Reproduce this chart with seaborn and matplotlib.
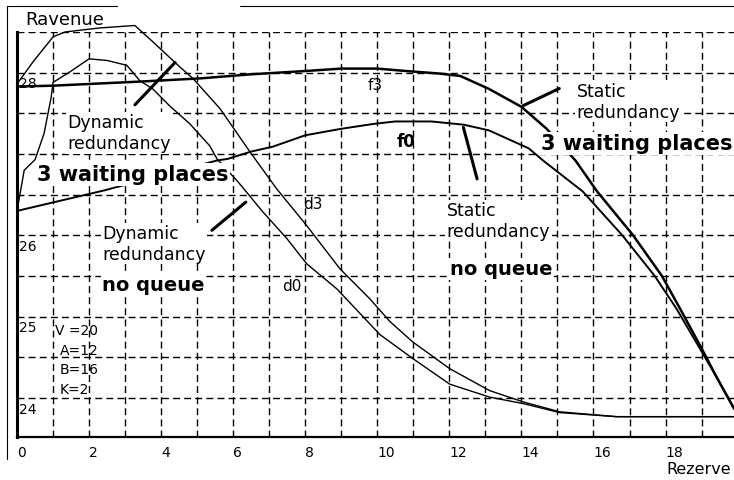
import matplotlib
matplotlib.use('Agg')
import matplotlib.pyplot as plt
from matplotlib.lines import Line2D
import numpy as np
import seaborn as sns

# revenue vs reserve
f3_x = [0, 1.0, 3.4, 5.1, 6.5, 8.0, 9.0, 10.0, 10.8, 11.7, 12.3, 13.1, 14.0,
        14.7, 15.5, 16.1, 17.1, 17.9, 18.4, 19.0, 19.4, 19.9]
f3_y = [27.83, 27.84, 27.89, 27.93, 27.98, 28.02, 28.05, 28.05, 28.02, 27.99,
        27.96, 27.80, 27.58, 27.31, 26.92, 26.54, 26.00, 25.50, 25.10, 24.61,
        24.27, 23.87]

f0_x = [0, 2.4, 5.55, 5.85, 6.5, 7.1, 8.0, 9.0, 9.9, 10.5, 11.5, 12.4, 13.1,
        14.2, 14.6, 15.7, 16.8, 17.7, 18.3, 18.95, 19.4, 19.9]
f0_y = [26.30, 26.55, 26.92, 26.94, 27.03, 27.09, 27.23, 27.31, 27.37, 27.40,
        27.40, 27.36, 27.29, 27.07, 26.92, 26.54, 26.00, 25.50, 25.10, 24.61,
        24.27, 23.87]

d3_x = [0, 0.44, 1.0, 1.33, 2.3, 3.27, 3.77, 4.52, 4.88, 5.63, 6.46, 7.21,
        8.04, 8.96, 9.79, 10.35, 10.98, 12.01, 13.12, 14.06, 15.06, 16.64, 19.9]
d3_y = [27.86, 28.13, 28.44, 28.50, 28.55, 28.58, 28.38, 28.07, 27.93, 27.56,
        27.03, 26.57, 26.12, 25.59, 25.22, 24.94, 24.69, 24.36, 24.09, 23.95,
        23.83, 23.77, 23.77]

d0_x = [0, 0.2, 0.5, 0.75, 0.95, 1.0, 1.47, 2.0, 2.5, 3.05, 3.41, 3.77, 4.24,
        4.8, 5.35, 5.55, 6.13, 6.82, 7.49, 8.04, 8.88, 10.07, 11.0, 12.01,
        13.12, 14.06, 15.06, 16.64, 19.9]
d0_y = [26.30, 26.80, 26.93, 27.25, 27.70, 27.88, 28.01, 28.17, 28.15, 28.09,
        27.90, 27.80, 27.59, 27.37, 27.10, 26.94, 26.66, 26.29, 25.96, 25.65,
        25.34, 24.78, 24.48, 24.17, 24.01, 23.93, 23.82, 23.77, 23.77]

x_ticks = [0, 2, 4, 6, 8, 10, 12, 14, 16, 18]
y_ticks = [24, 25, 26, 28]
params = ['V =20', 'A=12', 'B=16', 'K=2']

sns.set_style('white')
plt.rcParams['font.family'] = ['DejaVu Sans']
plt.rcParams['text.color'] = 'black'
plt.rcParams['xtick.color'] = 'black'
plt.rcParams['axes.edgecolor'] = 'black'

fig = plt.figure(figsize=(7.34, 4.81), dpi=100)
ax = fig.add_axes([17 / 734, 43 / 481, 717 / 734, 405 / 481])
ax.set_xlim(0, 19.9)
ax.set_ylim(23.52, 28.5)

# dashed grid, every unit in x and half unit in y
dash = (0, (5, 3))
ax.vlines(np.arange(1, 20), 23.52, 28.5, colors='black', lw=1.0,
          linestyles=dash, zorder=1)
ax.hlines(np.arange(24, 28.51, 0.5), 0, 19.9, colors='black', lw=1.0,
          linestyles=dash, zorder=1)

curves = [(f3_x, f3_y, 1.8), (f0_x, f0_y, 1.4), (d3_x, d3_y, 1.0),
          (d0_x, d0_y, 1.0)]
for xs, ys, lw in curves:
    sns.lineplot(x=xs, y=ys, ax=ax, color='black', lw=lw, estimator=None,
                 clip_on=False, zorder=3)

# leader lines from the labels to the curves
leaders = [((3.22, 27.58), (4.44, 28.15)), ((5.35, 26.04), (6.41, 26.43)),
           ((13.98, 27.58), (15.12, 27.82)), ((12.37, 27.36), (12.79, 26.66))]
for start, end in leaders:
    ax.annotate('', xy=start, xytext=end,
                arrowprops=dict(arrowstyle='-', lw=2.2, color='black'))

box = dict(facecolor='white', edgecolor='none', pad=1)
ax.text(1.39, 27.26, 'Dynamic\nredundancy', fontsize=12.5, va='center',
        bbox=box, zorder=4)
ax.text(0.55, 26.75, '3 waiting places', fontsize=15, fontweight='bold',
        va='center', bbox=box, zorder=4)
ax.text(2.36, 25.90, 'Dynamic\nredundancy', fontsize=12.5, va='center',
        bbox=box, zorder=4)
ax.text(2.36, 25.40, 'no queue', fontsize=14, fontweight='bold', va='center',
        bbox=box, zorder=4)
ax.text(15.53, 27.65, 'Static\nredundancy', fontsize=12.5, va='center',
        bbox=box, zorder=4)
ax.text(14.54, 27.13, '3 waiting places', fontsize=15, fontweight='bold',
        va='center', bbox=box, zorder=4)
ax.text(11.93, 26.18, 'Static\nredundancy', fontsize=12.5, va='center',
        bbox=box, zorder=4)
ax.text(12.01, 25.59, 'no queue', fontsize=14, fontweight='bold', va='center',
        bbox=box, zorder=4)
ax.text(9.74, 27.85, 'f3', fontsize=11, va='center')
ax.text(10.54, 27.16, 'f0', fontsize=12, fontweight='bold', va='center')
ax.text(7.93, 26.39, 'd3', fontsize=11, va='center')
ax.text(7.35, 25.38, 'd0', fontsize=11, va='center')

for i, p in enumerate(params):
    ax.text(1.05 if i == 0 else 1.19, 24.83 - 0.24 * i, p, fontsize=10,
            va='center')

for v in y_ticks:
    ax.text(0.05, v - 0.13, str(v), fontsize=10, va='center', ha='left')

ax.set_yticks([])
ax.set_xticks(x_ticks)
ax.set_xticklabels([str(t) for t in x_ticks], ha='left')
ax.tick_params(axis='x', length=0, pad=6, labelsize=10)

for side in ['top', 'right']:
    ax.spines[side].set_visible(False)
ax.spines['left'].set_linewidth(2.2)
ax.spines['bottom'].set_linewidth(1.6)

fig.text(25 / 734, 1 - 20 / 481, 'Ravenue', fontsize=13, va='center')
fig.text(666 / 734, 1 - 470 / 481, 'Rezerve', fontsize=11.5, va='center')

# thin scan frame
fig.add_artist(Line2D([7 / 734, 7 / 734], [1 - 7 / 481, 1 - 460 / 481],
                      color='black', lw=0.8, transform=fig.transFigure))
fig.add_artist(Line2D([7 / 734, 117 / 734], [1 - 7 / 481, 1 - 7 / 481],
                      color='black', lw=0.8, transform=fig.transFigure))
fig.add_artist(Line2D([240 / 734, 1], [1 - 7 / 481, 1 - 7 / 481],
                      color='black', lw=0.8, transform=fig.transFigure))

fig.savefig('out.png', dpi=100)
